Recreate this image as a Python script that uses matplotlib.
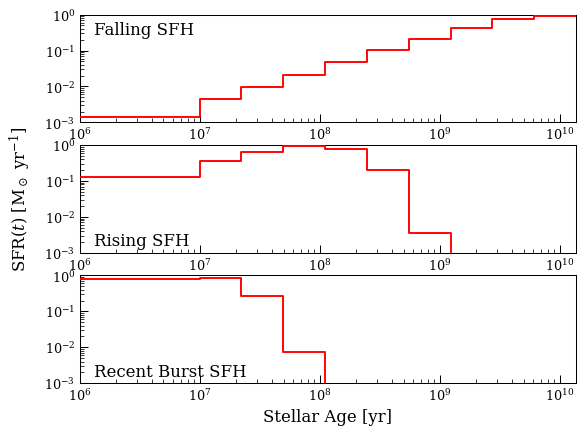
import numpy as np
import matplotlib
matplotlib.use('Agg')
import matplotlib.pyplot as plt

plt.rcParams['font.family'] = 'serif'
plt.rcParams['font.serif'] = ['DejaVu Serif']
plt.rcParams['mathtext.fontset'] = 'dejavuserif'

# bin edges in stellar age [yr]
age_edges = [1e6, 1e7, 2.23e7, 4.97e7, 1.11e8, 2.47e8, 5.5e8,
             1.23e9, 2.73e9, 6.1e9, 1.35e10]

# SFR per bin [Msun / yr]
sfr_falling = [1.38e-3, 4.5e-3, 9.7e-3, 0.0206, 0.048, 0.102,
               0.206, 0.425, 0.76, 0.93]
sfr_rising = [0.13, 0.35, 0.63, 0.94, 0.78, 0.2, 3.6e-3,
              0.0, 0.0, 0.0]
sfr_burst = [0.81, 0.86, 0.27, 7.6e-3, 0.0, 0.0, 0.0,
             0.0, 0.0, 0.0]

titles = ['Falling SFH', 'Rising SFH', 'Recent Burst SFH']
title_pos = [(0.03, 0.94, 'top'), (0.03, 0.03, 'bottom'), (0.03, 0.03, 'bottom')]

fig, axes = plt.subplots(3, 1, figsize=(6.4, 4.8), dpi=91.4)
fig.subplots_adjust(left=0.136, right=0.984, top=0.965, bottom=0.125,
                    hspace=0.21)

for ax, sfr, name, (tx, ty, va) in zip(axes, [sfr_falling, sfr_rising, sfr_burst],
                                       titles, title_pos):
    x = np.array(age_edges)
    y = np.append(sfr, sfr[-1])
    ax.step(x, y, where='post', color='red', lw=1.5, zorder=3)
    ax.set_xscale('log')
    ax.set_yscale('log', nonpositive='clip')
    ax.set_xlim(age_edges[0], age_edges[-1])
    ax.set_ylim(1e-3, 1e0)
    ax.tick_params(which='both', direction='in', top=False, right=False,
                   labelsize=10)
    ax.tick_params(which='major', length=6.5)
    ax.tick_params(which='minor', length=3)
    ax.text(tx, ty, name, transform=ax.transAxes, fontsize=13, va=va)

axes[-1].set_xlabel('Stellar Age [yr]', fontsize=13)
fig.text(0.035, 0.545, r'SFR($t$) [M$_\odot$ yr$^{-1}$]', rotation=90,
         va='center', ha='center', fontsize=13)

fig.savefig('out.png', dpi=91.4)
